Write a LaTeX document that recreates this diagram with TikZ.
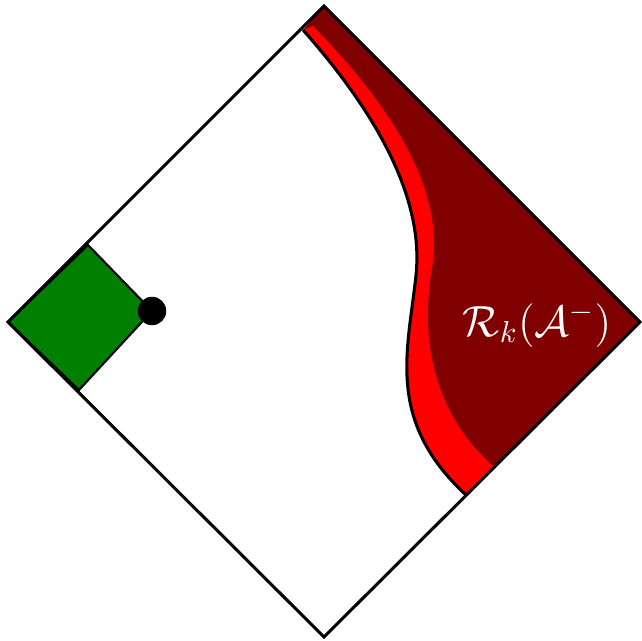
\documentclass[tikz,border=0pt]{standalone}
\usepackage{amsmath}

\definecolor{darkred}{rgb}{0.5,0,0}
\definecolor{darkgreen}{rgb}{0,0.5,0}

\newcommand*{\outercurve}{(303,30) .. controls (365,100) and (425,190) .. (416,275) .. controls (408,351) and (385,420) .. (466,495)}
\newcommand*{\innercurve}{(494,467) .. controls (440,420) and (418,350) .. (432,268) .. controls (446,186) and (385,100) .. (313,26)}

\begin{document}
\begin{tikzpicture}
[
	x=0.0116cm,y=-0.0116cm,
	closedpt/.style={circle,draw,fill,inner sep=0pt,minimum size=9pt},
	border/.style={line width=1pt}
]

	\useasboundingbox (0,0) rectangle (642,641);

	% corners of the diamond
	\coordinate (T) at (324,6);
	\coordinate (R) at (640,322);
	\coordinate (B) at (324,637);
	\coordinate (L) at (8,322);

	% green patch
	\filldraw[fill=darkgreen,line width=0.7pt] (L) -- (88,245) -- (152,311) -- (79,390) -- cycle;

	% dark region, then the bright band
	\fill[darkred] \outercurve -- (R) -- (T) -- cycle;
	\fill[red] \outercurve -- \innercurve -- cycle;

	% boundary curve and diamond
	\draw[border] \outercurve;
	\draw[border] (T) -- (R) -- (B) -- (L) -- cycle;

	\node[closedpt] (pt) at (152,311) {};
	\node[text=white,font=\Large] (label) at (537,325) {$\mathcal{R}_k(\mathcal{A}^-)$};

\end{tikzpicture}
\end{document}
